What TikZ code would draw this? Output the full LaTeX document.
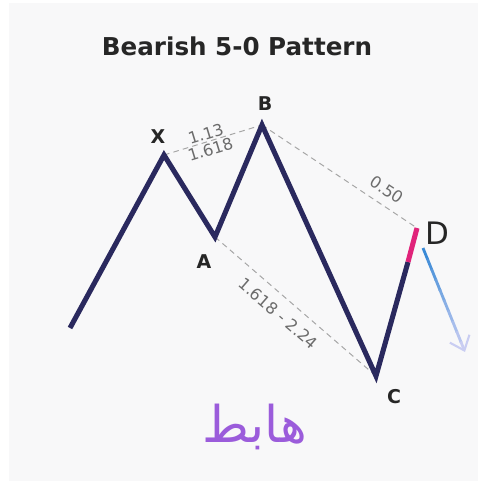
\documentclass[tikz,border=0pt]{standalone}
\usepackage{fontspec}
\setmainfont{DejaVu Sans}
\newfontfamily\arabicfont[Script=Arabic]{DejaVu Sans}
\TeXXeTstate=1
\usetikzlibrary{arrows.meta,calc}
\definecolor{navy}{HTML}{2A295E}
\definecolor{bggray}{HTML}{F8F8F9}
\definecolor{legpink}{HTML}{E0237A}
\definecolor{arrblue}{HTML}{3A8AD6}
\definecolor{arrpale}{HTML}{C9CDF2}
\definecolor{arabpurple}{HTML}{9B5CDB}
\tikzset{
  leg/.style={navy, line width=3.6pt},
  ratio/.style={gray!70, line width=0.7pt, dash pattern=on 4pt off 3pt},
  ratiolabel/.style={text=gray!85!black, font=\fontsize{11.5}{12}\selectfont, sloped, inner sep=1pt},
  ptlabel/.style={text=black!85, font=\bfseries\fontsize{13.5}{15}\selectfont}
}
\begin{document}
\begin{tikzpicture}
    \useasboundingbox (0,0) rectangle (11.95,12.025);
    % Background
    \fill[white] (0,0) rectangle (11.95,12.025);
    \fill[bggray] (0.225,0) rectangle (11.95,11.95);
    % Points of the pattern
    \coordinate (S) at (1.75,3.825);
    \coordinate (X) at (4.1,8.15);
    \coordinate (A) at (5.375,6.1);
    \coordinate (B) at (6.55,8.9);
    \coordinate (C) at (9.4,2.625);
    \coordinate (P) at (10.2,5.475);
    \coordinate (D) at (10.425,6.325);
    \coordinate (E1) at (10.575,5.825);
    \coordinate (E2) at (11.625,3.225);
    % Title
    \node[font=\bfseries\fontsize{17.5}{19}\selectfont, text=black!85] (title) at (5.925,10.875) {Bearish 5-0 Pattern};
    % Ratio lines
    \draw[ratio] (X) -- node[ratiolabel, above=0pt, pos=0.45] (xbup) {1.13} node[ratiolabel, below=0pt, pos=0.45] (xbdown) {1.618} (B);
    \draw[ratio] (B) -- node[ratiolabel, above=5pt, pos=0.75] (bd) {0.50} (D);
    \draw[ratio] (A) -- node[ratiolabel, below=6pt, pos=0.46] (ac) {1.618 - 2.24} (C);
    % Pattern legs
    \draw[leg] (S) -- (X) -- (A) -- (B) -- (C) -- (P);
    \draw[leg, legpink] (P) -- (D);
    % Arrow out of D
    \foreach \i in {0,...,8}
        \draw[line width=2pt, arrblue!\the\numexpr100-\i*11\relax!arrpale] ($(E1)!\i/10!(E2)$) -- ($(E1)!\i/10+0.11!(E2)$);
    \draw[line width=2pt, arrpale, -{Straight Barb[length=9pt, width=15pt, line width=1.5pt]}] ($(E1)!0.9!(E2)$) -- (E2);
    % Point labels
    \node[ptlabel] (lx) at (3.95,8.6) {X};
    \node[ptlabel] (lb) at (6.625,9.425) {B};
    \node[ptlabel] (la) at (5.1,5.475) {A};
    \node[ptlabel] (lc) at (9.85,2.1) {C};
    \node[text=black!85, font=\fontsize{22}{24}\selectfont] (ld) at (10.925,6.2) {D};
    % Arabic word
    \node[text=arabpurple, font=\arabicfont\fontsize{36}{40}\selectfont] (word) at (6.375,1.35) {\beginR هابط\endR};
\end{tikzpicture}
\end{document}
